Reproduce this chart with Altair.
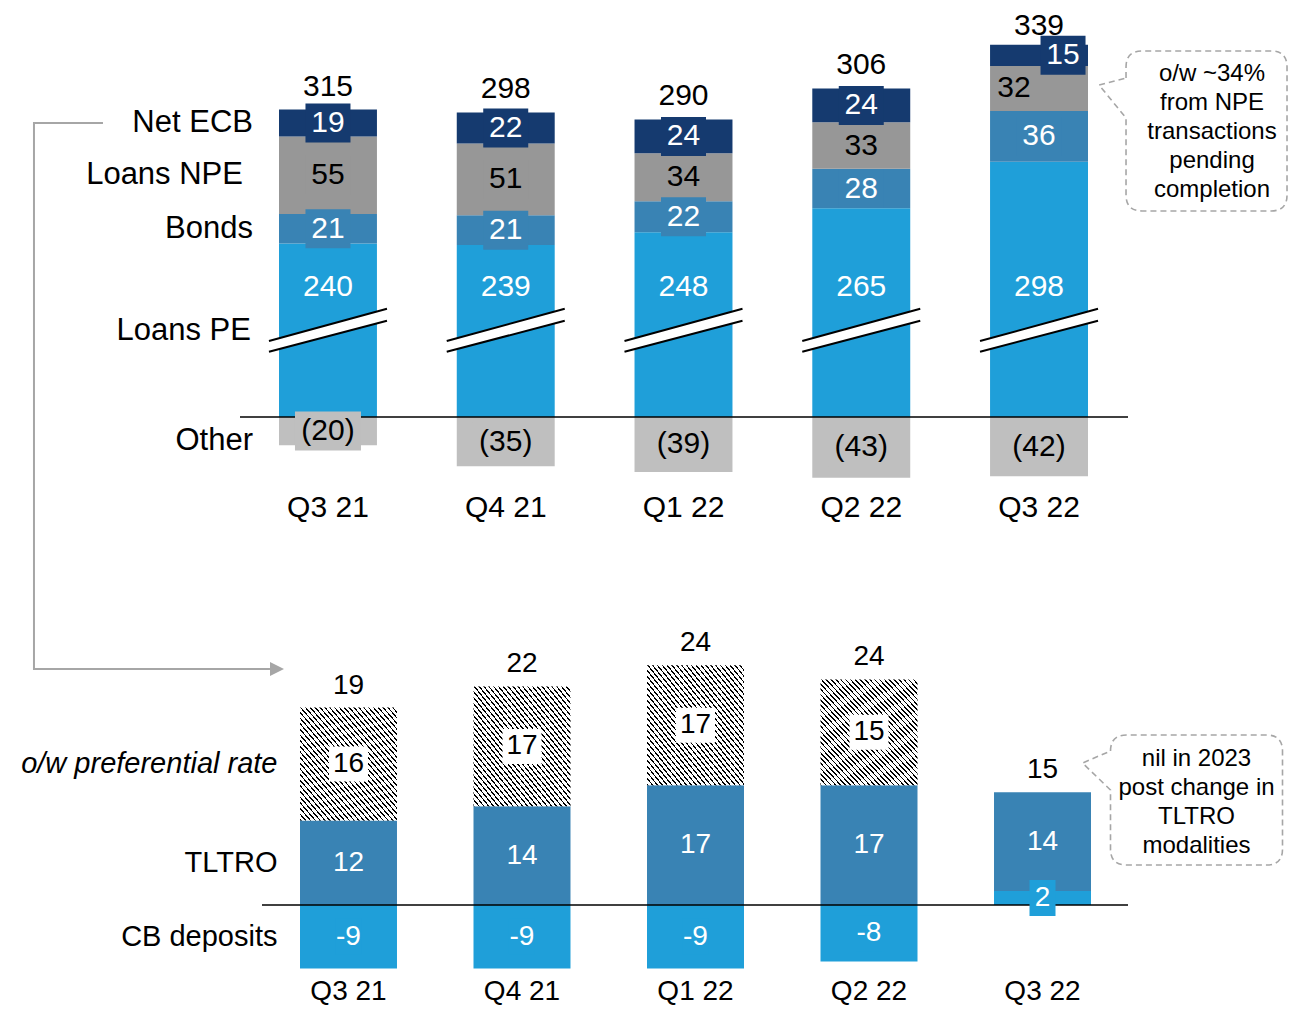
import altair as alt
import pandas as pd

# ---------------- data ----------------
quarters = ["Q3 21", "Q4 21", "Q1 22", "Q2 22", "Q3 22"]

loans_pe = [240, 239, 248, 265, 298]
bonds = [21, 21, 22, 28, 36]
loans_npe = [55, 51, 34, 33, 32]
net_ecb = [19, 22, 24, 24, 15]
other = [-20, -35, -39, -43, -42]
top_totals = [315, 298, 290, 306, 339]

tltro = [12, 14, 17, 17, 14]
preferential = [16, 17, 17, 15, 0]
cb_deposits = [-9, -9, -9, -8, 2]
ecb_totals = [19, 22, 24, 24, 15]

callout_top = ["o/w ~34%", "from NPE", "transactions", "pending", "completion"]
callout_bottom = ["nil in 2023", "post change in", "TLTRO", "modalities"]

# ---------------- styles ----------------
FONT = "Liberation Sans, Arial, Helvetica, sans-serif"
C_PE = "#1f9fd9"
C_BONDS = "#3983b4"
C_NPE = "#979797"
C_ECB = "#153a6f"
C_OTHER = "#bfbfbf"
C_TLTRO = "#3983b4"
C_CB = "#1f9fd9"
GREY_LINE = "#a6a6a6"

W, H = 1280, 999
BREAK = 117          # units hidden by the axis break on Loans PE
PE_LABEL_U = 92      # where the Loans PE value is written (above the break)
BREAK_U = 61.3       # position of the break marks

TOP_ZERO, TOP_K = 409, 1.41
BOT_ZERO, BOT_K = 897, 7.05

top_x_scale = alt.Scale(domain=quarters, range=[271, 1080], paddingInner=0.449, paddingOuter=0)
top_y_scale = alt.Scale(domain=[0, 100], range=[TOP_ZERO, TOP_ZERO - 100 * TOP_K], nice=False, zero=False)
bot_x_scale = alt.Scale(domain=quarters, range=[292, 1083], paddingInner=0.441, paddingOuter=0)
bot_y_scale = alt.Scale(domain=[0, 10], range=[BOT_ZERO, BOT_ZERO - 10 * BOT_K], nice=False, zero=False)

tx = alt.X("q:N", scale=top_x_scale, axis=None)
bx = alt.X("q:N", scale=bot_x_scale, axis=None)


def ty(f):
    return alt.Y(f + ":Q", scale=top_y_scale, axis=None)


def by(f):
    return alt.Y(f + ":Q", scale=bot_y_scale, axis=None)


# ---------------- top table ----------------
rows = []
stack_top = []
for i, q in enumerate(quarters):
    c = loans_pe[i] - BREAK
    rows.append(dict(q=q, series="Loans PE", y0=0, y1=c, ly=PE_LABEL_U, label=str(loans_pe[i]),
                     fill=C_PE, tcolor="white", pos="center"))
    for name, arr, col, tc in (("Bonds", bonds, C_BONDS, "white"),
                               ("Loans NPE", loans_npe, C_NPE, "black"),
                               ("Net ECB", net_ecb, C_ECB, "white")):
        v = arr[i]
        pos = "center"
        if q == "Q3 22" and name == "Loans NPE":
            pos = "left"
        if q == "Q3 22" and name == "Net ECB":
            pos = "right"
        rows.append(dict(q=q, series=name, y0=c, y1=c + v, ly=c + v / 2, label=str(v),
                         fill=col, tcolor=tc, pos=pos))
        c += v
    stack_top.append(c)
    rows.append(dict(q=q, series="Other", y0=0, y1=other[i], ly=other[i] / 2,
                     label="(%d)" % abs(other[i]), fill=C_OTHER, tcolor="black", pos="center"))
top_df = pd.DataFrame(rows)


def mid(df, q, s):
    r = df[(df.q == q) & (df.series == s)].iloc[0]
    return float(r.ly)


top_tot_df = pd.DataFrame(dict(q=quarters, y=stack_top, label=[str(t) for t in top_totals],
                               last=[q == "Q3 22" for q in quarters]))
top_names = pd.DataFrame(dict(
    q=["Q3 21"] * 5,
    name=["Net ECB", "Loans NPE", "Bonds", "Loans PE", "Other"],
    y=[mid(top_df, "Q3 21", "Net ECB"), mid(top_df, "Q3 21", "Loans NPE"),
       mid(top_df, "Q3 21", "Bonds"), BREAK_U, mid(top_df, "Q3 21", "Other")],
    grp=["a", "b", "a", "c", "d"]))
top_q_df = pd.DataFrame(dict(q=quarters, y=[-64.5] * 5))
break_df = pd.DataFrame(dict(q=quarters, y=[BREAK_U] * 5))
conn_df = pd.DataFrame(dict(q=["Q3 21"], y=[mid(top_df, "Q3 21", "Net ECB")]))
call_top_df = pd.DataFrame(dict(q=["Q3 22"], y=[mid(top_df, "Q3 22", "Loans NPE")]))

BOX45 = "M-22.5,-19.5 L22.5,-19.5 L22.5,19.5 L-22.5,19.5 Z"
BOX45R = "M1.5,-19.5 L46.5,-19.5 L46.5,19.5 L1.5,19.5 Z"
BOX66 = "M-33,-19.5 L33,-19.5 L33,19.5 L-33,19.5 Z"
BOX39 = "M-19.5,-17.5 L19.5,-17.5 L19.5,17.5 L-19.5,17.5 Z"
BOX26 = "M-13,-18 L13,-18 L13,18 L-13,18 Z"
BREAK_FILL = "M-59,10.5 L59,-21.8 L59,-9.8 L-59,21.2 Z"
BREAK_LINES = "M-59,10.5 L59,-21.8 M-59,21.2 L59,-9.8"
CONN = "M-225,0 L-294,0 L-294,546 L-58,546"
CONN_HEAD = "M-58,539 L-44,546 L-58,553 Z"
BUBBLE_TOP = ("M87,-10.5 L87,-21.5 Q87,-37.5 103,-37.5 L232,-37.5 Q248,-37.5 248,-21.5 "
              "L248,106.5 Q248,122.5 232,122.5 L103,122.5 Q87,122.5 87,106.5 L87,29.5 L60,-3.5 Z")
BUBBLE_BOT = ("M68,-41.2 Q68,-57.2 84,-57.2 L224,-57.2 Q240,-57.2 240,-41.2 L240,56.8 "
              "Q240,72.8 224,72.8 L84,72.8 Q68,72.8 68,56.8 L68,-2.2 L40,-29.2 Z")

fillc = alt.Color("fill:N", scale=None)
textc = alt.Color("tcolor:N", scale=None)

top_base = alt.Chart(top_df)
top_layers = [
    top_base.mark_bar().encode(x=tx, y=ty("y0"), y2=alt.Y2("y1"), color=fillc),
    alt.Chart(pd.DataFrame(dict(v=[0]))).mark_rule(color="black", strokeWidth=1.6).encode(
        y=ty("v"), x=alt.value(232), x2=alt.value(1120)),
    alt.Chart(break_df).mark_point(shape=BREAK_FILL, size=4, filled=True, fill="white",
                                   opacity=1, strokeWidth=0).encode(x=tx, y=ty("y")),
    alt.Chart(break_df).mark_point(shape=BREAK_LINES, size=4, filled=False, stroke="black",
                                   strokeWidth=2, opacity=1).encode(x=tx, y=ty("y")),
    top_base.transform_filter(
        "(datum.series == 'Bonds' || datum.series == 'Loans NPE' || datum.series == 'Net ECB') && datum.pos == 'center'"
    ).mark_point(shape=BOX45, size=4, filled=True, opacity=1, strokeWidth=0).encode(
        x=tx, y=ty("ly"), color=fillc),
    top_base.transform_filter("datum.pos == 'right'").mark_point(
        shape=BOX45R, size=4, filled=True, opacity=1, strokeWidth=0).encode(x=tx, y=ty("ly"), color=fillc),
    top_base.transform_filter("datum.series == 'Other'").mark_point(
        shape=BOX66, size=4, filled=True, opacity=1, strokeWidth=0).encode(x=tx, y=ty("ly"), color=fillc),
    top_base.transform_filter("datum.pos == 'center'").mark_text(font=FONT, fontSize=30).encode(
        x=tx, y=ty("ly"), text="label:N", color=textc),
    top_base.transform_filter("datum.pos == 'left'").mark_text(font=FONT, fontSize=30, dx=-25).encode(
        x=tx, y=ty("ly"), text="label:N", color=textc),
    top_base.transform_filter("datum.pos == 'right'").mark_text(font=FONT, fontSize=30, dx=24).encode(
        x=tx, y=ty("ly"), text="label:N", color=textc),
    alt.Chart(top_tot_df).transform_filter("!datum.last").mark_text(
        font=FONT, fontSize=30, dy=-23, color="black").encode(x=tx, y=ty("y"), text="label:N"),
    alt.Chart(top_tot_df).transform_filter("datum.last").mark_text(
        font=FONT, fontSize=30, dy=-18.5, color="black").encode(x=tx, y=ty("y"), text="label:N"),
    alt.Chart(top_q_df).mark_text(font=FONT, fontSize=30, color="black").encode(
        x=tx, y=ty("y"), text="q:N"),
    alt.Chart(conn_df).mark_point(shape=CONN, size=4, filled=False, stroke=GREY_LINE,
                                  strokeWidth=2, opacity=1).encode(x=tx, y=ty("y")),
    alt.Chart(conn_df).mark_point(shape=CONN_HEAD, size=4, filled=True, fill=GREY_LINE,
                                  strokeWidth=0, opacity=1).encode(x=tx, y=ty("y")),
    alt.Chart(call_top_df).mark_point(shape=BUBBLE_TOP, size=4, filled=False, stroke=GREY_LINE,
                                      strokeWidth=1.6, strokeDash=[6, 4], opacity=1).encode(x=tx, y=ty("y")),
    alt.Chart(call_top_df).mark_text(font=FONT, fontSize=24, color="black", text=callout_top,
                                     lineHeight=29, dx=173, dy=-14.5).encode(x=tx, y=ty("y")),
]
for g, dx, dy in (("a", -75, 0), ("b", -85, 0), ("c", -77, 0), ("d", -75, 10)):
    top_layers.append(
        alt.Chart(top_names).transform_filter("datum.grp == '%s'" % g).mark_text(
            font=FONT, fontSize=31, color="black", align="right", dx=dx, dy=dy).encode(
            x=tx, y=ty("y"), text="name:N"))
top_chart = alt.layer(*top_layers)

# ---------------- bottom table ----------------
rows = []
bot_top = []
for i, q in enumerate(quarters):
    cb = cb_deposits[i]
    rows.append(dict(q=q, series="cb", y0=0, y1=cb, ly=cb / 2, label=str(cb), fill=C_CB, tcolor="white"))
    base = max(cb, 0)
    t = tltro[i]
    rows.append(dict(q=q, series="tltro", y0=base, y1=base + t, ly=base + t / 2, label=str(t),
                     fill=C_TLTRO, tcolor="white"))
    top = base + t
    p = preferential[i]
    if p > 0:
        rows.append(dict(q=q, series="pref", y0=top, y1=top + p, ly=top + p / 2, label=str(p),
                         fill="#ffffff", tcolor="black"))
        top += p
    bot_top.append(top)
bot_df = pd.DataFrame(rows)


def bmid(q, s):
    r = bot_df[(bot_df.q == q) & (bot_df.series == s)].iloc[0]
    return float(r.ly)


bot_tot_df = pd.DataFrame(dict(q=quarters, y=bot_top, label=[str(t) for t in ecb_totals]))
bot_names = pd.DataFrame(dict(
    q=["Q3 21"] * 3,
    name=["o/w preferential rate", "TLTRO", "CB deposits"],
    y=[bmid("Q3 21", "pref"), bmid("Q3 21", "tltro"), bmid("Q3 21", "cb")],
    style=["italic", "normal", "normal"]))
bot_q_df = pd.DataFrame(dict(q=quarters, y=[-12.3] * 5))
call_bot_df = pd.DataFrame(dict(q=["Q3 22"], y=[bot_top[4]]))

N_STRIPES, BLACK_FRAC = 40, 0.32
stops = []
for k in range(N_STRIPES):
    a = k / N_STRIPES
    b = (k + BLACK_FRAC) / N_STRIPES
    c = (k + 1) / N_STRIPES
    stops += [dict(offset=a, color="#000000"), dict(offset=b, color="#000000"),
              dict(offset=b, color="#ffffff"), dict(offset=c, color="#ffffff")]
HATCH = dict(gradient="linear", x1=0, y1=1, x2=1, y2=0, stops=stops)

bot_base = alt.Chart(bot_df)
bot_layers = [
    bot_base.transform_filter("datum.series != 'pref'").mark_bar().encode(
        x=bx, y=by("y0"), y2=alt.Y2("y1"), color=fillc),
    bot_base.transform_filter("datum.series == 'pref'").mark_bar(fill=HATCH).encode(
        x=bx, y=by("y0"), y2=alt.Y2("y1")),
    alt.Chart(pd.DataFrame(dict(v=[0]))).mark_rule(color="black", strokeWidth=1.6).encode(
        y=by("v"), x=alt.value(254), x2=alt.value(1120)),
    bot_base.transform_filter("datum.series == 'pref'").mark_point(
        shape=BOX39, size=4, filled=True, opacity=1, strokeWidth=0).encode(x=bx, y=by("ly"), color=fillc),
    bot_base.transform_filter("datum.series == 'cb'").mark_point(
        shape=BOX26, size=4, filled=True, opacity=1, strokeWidth=0).encode(x=bx, y=by("ly"), color=fillc),
    bot_base.mark_text(font=FONT, fontSize=28).encode(x=bx, y=by("ly"), text="label:N", color=textc),
    alt.Chart(bot_tot_df).mark_text(font=FONT, fontSize=28, dy=-22, color="black").encode(
        x=bx, y=by("y"), text="label:N"),
    alt.Chart(bot_q_df).mark_text(font=FONT, fontSize=28, color="black").encode(
        x=bx, y=by("y"), text="q:N"),
    alt.Chart(bot_names).transform_filter("datum.style == 'italic'").mark_text(
        font=FONT, fontSize=29, fontStyle="italic", color="black", align="right", dx=-71).encode(
        x=bx, y=by("y"), text="name:N"),
    alt.Chart(bot_names).transform_filter("datum.style == 'normal'").mark_text(
        font=FONT, fontSize=29, color="black", align="right", dx=-71).encode(
        x=bx, y=by("y"), text="name:N"),
    alt.Chart(call_bot_df).mark_point(shape=BUBBLE_BOT, size=4, filled=False, stroke=GREY_LINE,
                                      strokeWidth=1.6, strokeDash=[6, 4], opacity=1).encode(x=bx, y=by("y")),
    alt.Chart(call_bot_df).mark_text(font=FONT, fontSize=24, color="black", text=callout_bottom,
                                     lineHeight=29, dx=154, dy=-33.2).encode(x=bx, y=by("y")),
]
bot_chart = alt.layer(*bot_layers)

chart = alt.layer(top_chart, bot_chart).resolve_scale(
    x="independent", y="independent"
).properties(
    width=W, height=H, padding=0, autosize=alt.AutoSizeParams(type="none"), background="white"
).configure_view(stroke=None)

chart.save("out.html", embed_options={"renderer": "svg", "actions": False})
